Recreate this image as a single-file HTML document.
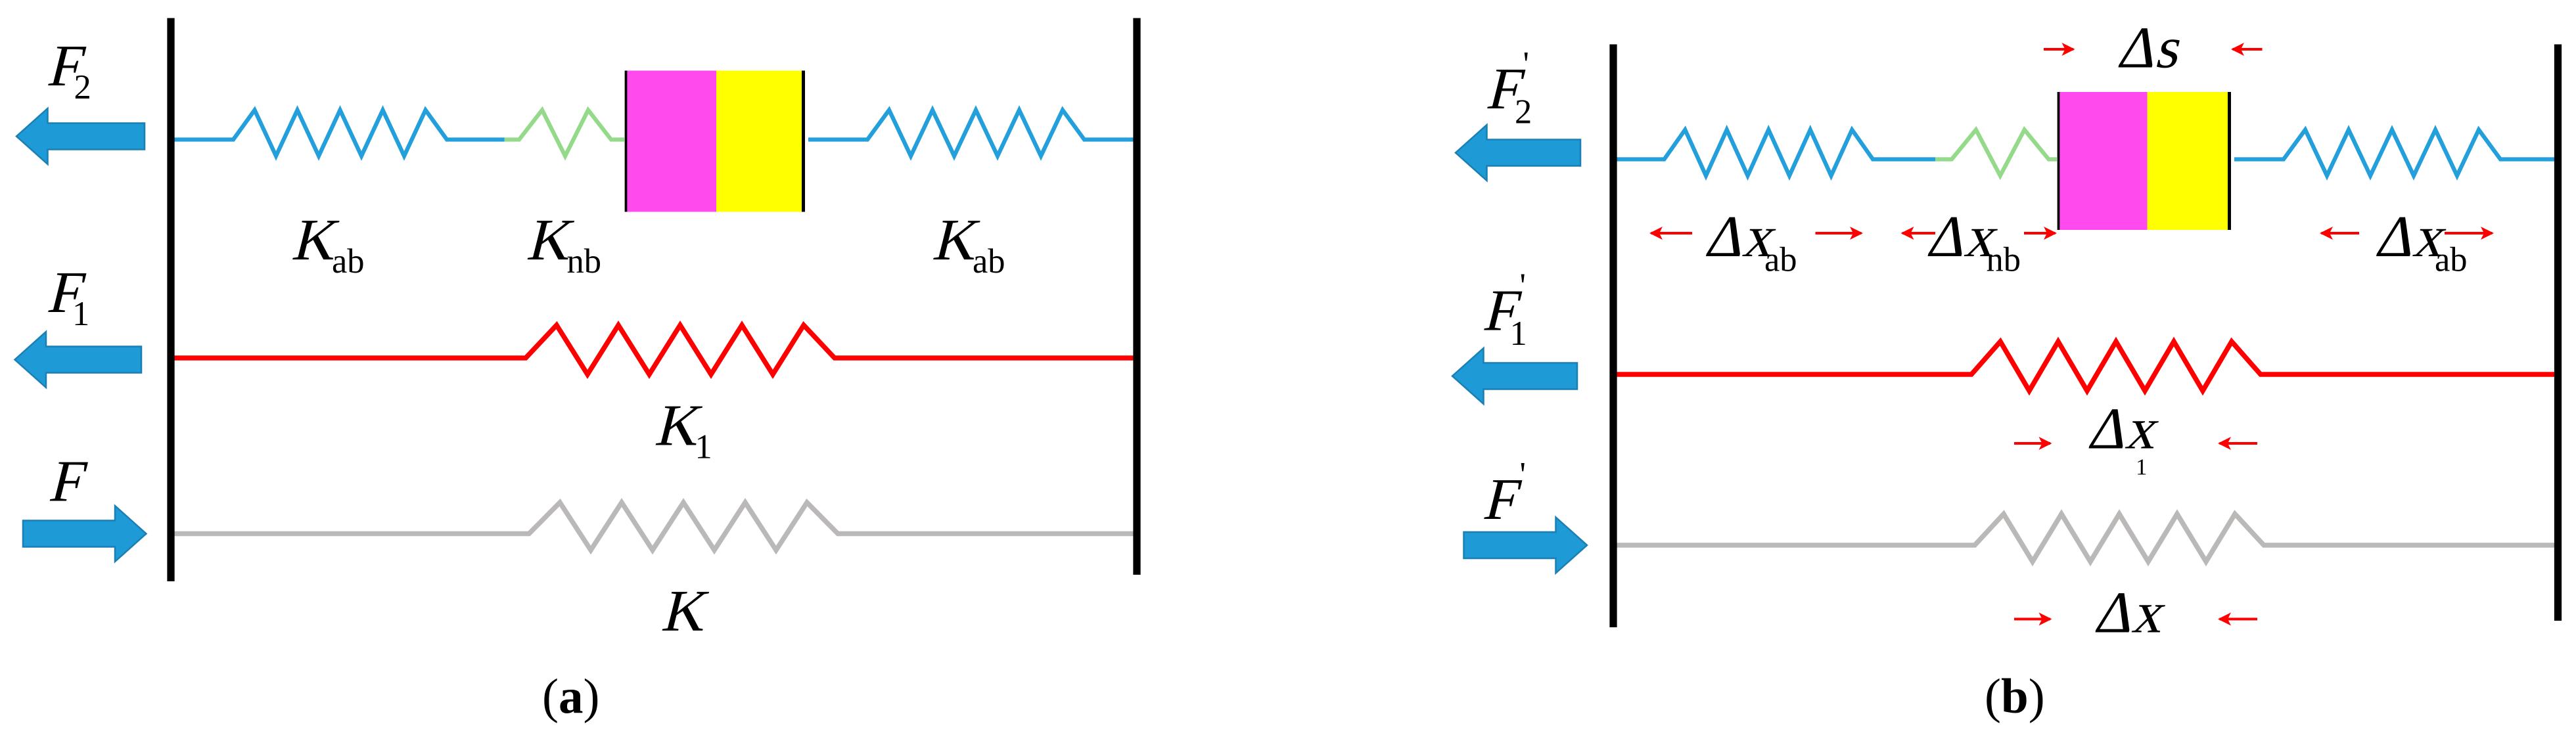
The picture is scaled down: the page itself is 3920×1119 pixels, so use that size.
<!DOCTYPE html>
<html><head><meta charset="utf-8"><style>
html,body{margin:0;padding:0;background:#fff;}
svg{display:block;}
text{font-family:"Liberation Serif","DejaVu Serif","Noto Serif CJK SC",serif;fill:#000;}
.m{font-size:36px;}
.s{font-size:21px;}
</style></head><body>
<svg width="3920" height="1119" viewBox="0 0 1568 447.6" xmlns="http://www.w3.org/2000/svg">
<defs>
<marker id="ra" markerWidth="8" markerHeight="8" refX="7" refY="4" orient="auto" markerUnits="userSpaceOnUse"><path d="M0,0 L8,4 L0,8 L2,4 Z" fill="#ff0000"/></marker>
</defs>
<g id="g"></g>
<line x1="104" y1="11" x2="104" y2="354" stroke="#000" stroke-width="4.5"/>
<line x1="692" y1="11" x2="692" y2="350" stroke="#000" stroke-width="4.5"/>
<line x1="982" y1="27" x2="982" y2="382" stroke="#000" stroke-width="4.5"/>
<line x1="1557" y1="27" x2="1557" y2="378" stroke="#000" stroke-width="4.5"/>
<rect x="381" y="43" width="55" height="86" fill="#ff4aee"/>
<rect x="436" y="43" width="52" height="86" fill="#ffff00"/>
<line x1="381" y1="43" x2="381" y2="129" stroke="#000" stroke-width="1.5"/>
<line x1="489" y1="43" x2="489" y2="129" stroke="#000" stroke-width="2"/>
<rect x="1253" y="56" width="54" height="84" fill="#ff4aee"/>
<rect x="1307" y="56" width="50" height="84" fill="#ffff00"/>
<line x1="1253" y1="56" x2="1253" y2="140" stroke="#000" stroke-width="1.5"/>
<line x1="1357" y1="56" x2="1357" y2="140" stroke="#000" stroke-width="2"/>

<g transform="translate(28,52) skewX(-14)"><text class="m" x="0" y="0">F</text></g><text class="s" x="45" y="60">2</text>
<g transform="translate(28,190) skewX(-14)"><text class="m" x="0" y="0">F</text></g><text class="s" x="44" y="198">1</text>
<g transform="translate(29,305) skewX(-14)"><text class="m" x="0" y="0">F</text></g>
<g transform="translate(177,158) skewX(-14)"><text class="m" x="0" y="0">K</text></g><text class="s" x="202" y="166">ab</text>
<g transform="translate(320,158) skewX(-14)"><text class="m" x="0" y="0">K</text></g><text class="s" x="345" y="166">nb</text>
<g transform="translate(567,158) skewX(-14)"><text class="m" x="0" y="0">K</text></g><text class="s" x="592" y="166">ab</text>
<g transform="translate(398,271) skewX(-14)"><text class="m" x="0" y="0">K</text></g><text class="s" x="423" y="279">1</text>
<g transform="translate(402,384) skewX(-14)"><text class="m" x="0" y="0">K</text></g>

<g transform="translate(904,66) skewX(-14)"><text class="m" x="0" y="0">F</text></g><text class="s" x="927" y="46">'</text><text class="s" x="922" y="75">2</text>
<g transform="translate(902,201) skewX(-14)"><text class="m" x="0" y="0">F</text></g><text class="s" x="925" y="181">'</text><text class="s" x="919" y="210">1</text>
<g transform="translate(902,316) skewX(-14)"><text class="m" x="0" y="0">F</text></g><text class="s" x="925" y="296">'</text>
<g transform="translate(1288,41) skewX(-14)"><text class="m" x="0" y="0">Δs</text></g>
<g transform="translate(1037,156) skewX(-14)"><text class="m" x="0" y="0">Δx</text></g><text class="s" x="1074" y="165">ab</text>
<g transform="translate(1172,156) skewX(-14)"><text class="m" x="0" y="0">Δx</text></g><text class="s" x="1209" y="165">nb</text>
<g transform="translate(1445,156) skewX(-14)"><text class="m" x="0" y="0">Δx</text></g><text class="s" x="1482" y="165">ab</text>
<g transform="translate(1270,273) skewX(-14)"><text class="m" x="0" y="0">Δx</text></g><text x="1300" y="289" style="font-size:14px">1</text>
<g transform="translate(1274,385) skewX(-14)"><text class="m" x="0" y="0">Δx</text></g>

<text x="330" y="434" style="font-size:30px">(<tspan font-weight="bold">a</tspan>)</text>
<text x="1208" y="434" style="font-size:30px">(<tspan font-weight="bold">b</tspan>)</text>
</svg>
<script>
var g=document.getElementById('g'),NS='http://www.w3.org/2000/svg';
function el(t,a){var e=document.createElementNS(NS,t);for(var k in a)e.setAttribute(k,a[k]);g.appendChild(e);return e;}
function spring(a,b,z0,z1,y,n,up,dn,col,w){
 var p=[[a,y],[z0,y]],st=(z1-z0)/(2*n);
 for(var k=0;k<2*n-1;k++)p.push([z0+st*(k+1),k%2?y+dn:y-up]);
 p.push([z1,y],[b,y]);
 el('polyline',{points:p.map(function(q){return q.join(',')}).join(' '),fill:'none',stroke:col,'stroke-width':w});
}
function larrow(x0,x1,y){
 el('path',{d:'M'+x0+','+y+' L'+(x0+19)+','+(y-17)+' L'+(x0+19)+','+(y-8)+' L'+x1+','+(y-8)+' L'+x1+','+(y+8)+' L'+(x0+19)+','+(y+8)+' L'+(x0+19)+','+(y+17)+' Z',fill:'#1e9ad6',stroke:'#1a7fb3','stroke-width':1});
}
function rarrow(x0,x1,y){
 el('path',{d:'M'+x1+','+y+' L'+(x1-19)+','+(y-17)+' L'+(x1-19)+','+(y-8)+' L'+x0+','+(y-8)+' L'+x0+','+(y+8)+' L'+(x1-19)+','+(y+8)+' L'+(x1-19)+','+(y+17)+' Z',fill:'#1e9ad6',stroke:'#1a7fb3','stroke-width':1});
}
function ra(x0,x1,y){el('line',{x1:x0,y1:y,x2:x1,y2:y,stroke:'#ff0000','stroke-width':1.6,'marker-end':'url(#ra)'});}
var B='#23a0dc',G='#95d98a',R='#ff0000',Y='#bbb8b8';
spring(106,307,142,272,85,5,18,10,B,2.5);
spring(307,380,316,372,85,2,18,10,G,2.5);
spring(492,690,528,660,85,5,18,10,B,2.5);
spring(106,690,320,508,218,5,20,10,R,3);
spring(106,690,322,510,325,5,19,10,Y,3);
larrow(10,88,83);larrow(9,86,219);rarrow(14,89,325);
spring(984,1178,1013,1140,97,5,18,10,B,2.5);
spring(1178,1252,1188,1247,97,2,18,10,G,2.5);
spring(1360,1555,1390,1522,97,5,18,10,B,2.5);
spring(984,1555,1200,1376,228,5,20,10,R,3);
spring(984,1555,1202,1378,332,5,19,10,Y,3);
larrow(886,962,93);larrow(884,960,229);rarrow(891,966,332);
ra(1244,1262,30);ra(1377,1359,30);
ra(1030,1005,142);ra(1105,1133,142);
ra(1178,1158,142);ra(1232,1251,142);
ra(1436,1413,142);ra(1488,1517,142);
ra(1226,1248,270);ra(1374,1351,270);
ra(1226,1248,377);ra(1374,1351,377);
</script>
</body></html>
